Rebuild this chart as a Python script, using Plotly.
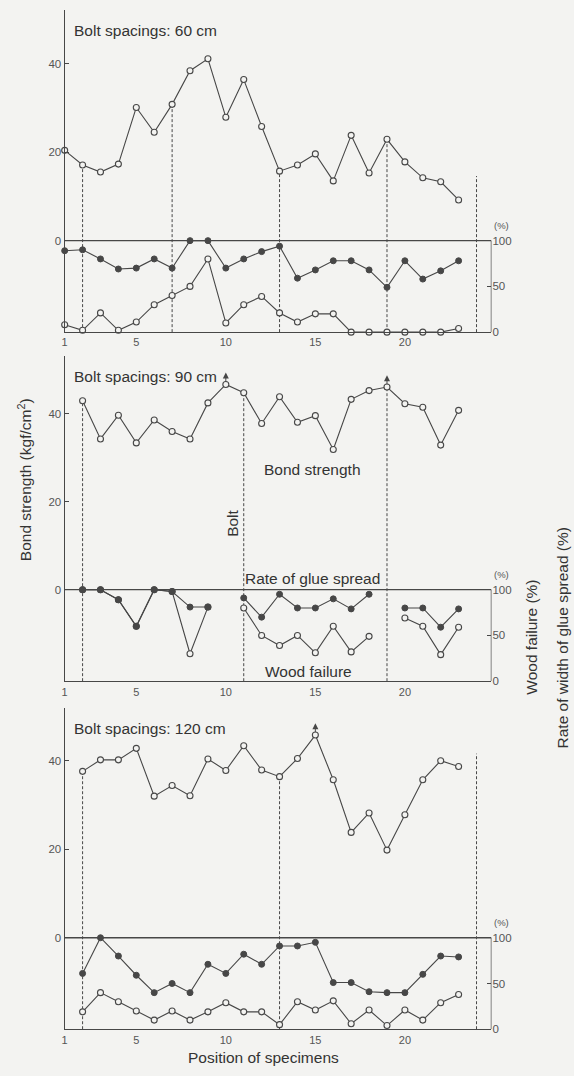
import plotly.graph_objects as go

# Specimen positions along the beam
positions = list(range(1, 24))

# Bolt spacing 60 cm
bond_60 = [20.4, 17.1, 15.5, 17.3, 30.1, 24.5, 30.8, 38.4, 41.1, 27.9, 36.4, 25.8,
           15.7, 17.1, 19.6, 13.5, 23.8, 15.3, 22.9, 17.8, 14.2, 13.3, 9.2]
glue_60 = [89, 90, 80, 69, 70, 80, 70, 100, 100, 70, 80, 88,
           94, 59, 68, 78, 78, 68, 49, 78, 58, 67, 78]
wood_60 = [8, 2, 21, 2, 11, 30, 40, 50, 80, 10, 30, 39,
           21, 11, 20, 20, 0, 0, 0, 0, 0, 0, 4]
bolts_60 = [2, 7, 13, 19, 24]
bolt_end_60 = 14.6
arrows_60 = []

# Bolt spacing 90 cm
bond_90 = [None, 43.0, 34.3, 39.7, 33.4, 38.6, 36.0, 34.3, 42.5, 46.7, 44.8, 37.8,
           43.9, 38.1, 39.6, 31.9, 43.3, 45.3, 46.1, 42.3, 41.5, 32.9, 40.8]
glue_90 = [None, 100, 100, 89, 60, 100, 98, 81, 81, None, 91, 70,
           95, 80, 80, 90, 79, 95, None, 80, 80, 59, 79]
wood_90 = [None, 100, 100, 89, 60, 100, 98, 30, 81, None, 80, 50,
           39, 50, 31, 60, 32, 49, None, 69, 60, 29, 59]
bolts_90 = [2, 11, 19]
bolt_end_90 = None
arrows_90 = [10, 19]

# Bolt spacing 120 cm
bond_120 = [None, 37.6, 40.2, 40.2, 42.8, 32.0, 34.4, 32.1, 40.4, 37.8, 43.4, 37.9,
            36.4, 40.5, 45.8, 35.7, 23.8, 28.2, 19.8, 27.8, 35.7, 40.0, 38.7]
glue_120 = [None, 61, 100, 80, 59, 40, 50, 40, 71, 61, 82, 71,
            91, 91, 95, 51, 51, 41, 40, 40, 60, 80, 79]
wood_120 = [None, 19, 40, 30, 20, 10, 20, 10, 19, 29, 19, 19,
            5, 30, 21, 31, 6, 21, 4, 21, 10, 29, 38]
bolts_120 = [2, 13, 24]
bolt_end_120 = 41.6
arrows_120 = [15]

x_ticks = [1, 5, 10, 15, 20]
bond_ticks = [0, 20, 40]
pct_ticks = [0, 50, 100]

# ---- page geometry (pixels) ----
W, H = 574, 1076
INK = "#474747"
TICK_INK = "#555555"
PAPER = "#f3f3f1"
FONT = "Liberation Sans, Arial, sans-serif"
X_LEFT, X_RIGHT, PX_PER_POS = 62, 491, 18.0
x_lo = 1
x_hi = x_lo + (X_RIGHT - X_LEFT) / PX_PER_POS


def fx(px):
    return px / W


def fy(py):
    return 1 - py / H


panels = [
    dict(title="Bolt spacings: 60 cm", bond=bond_60, glue=glue_60, wood=wood_60,
         bolts=bolts_60, bolt_end=bolt_end_60, arrows=arrows_60,
         top=10, zero=242, bottom=334, ppu=4.45),
    dict(title="Bolt spacings: 90 cm", bond=bond_90, glue=glue_90, wood=wood_90,
         bolts=bolts_90, bolt_end=bolt_end_90, arrows=arrows_90,
         top=358, zero=593, bottom=685, ppu=4.42),
    dict(title="Bolt spacings: 120 cm", bond=bond_120, glue=glue_120, wood=wood_120,
         bolts=bolts_120, bolt_end=bolt_end_120, arrows=arrows_120,
         top=712, zero=943, bottom=1035, ppu=4.45),
]

fig = go.Figure()
shapes = []
annotations = []
layout = {}

for i, p in enumerate(panels):
    n = i + 1
    xs = "" if n == 1 else str(n)
    yb_n = 2 * n - 1
    yp_n = 2 * n
    xa = "x" + xs
    yb = "y" if yb_n == 1 else f"y{yb_n}"
    yp = f"y{yp_n}"

    ymax = (p["zero"] - p["top"]) / p["ppu"]
    ymin = -(p["bottom"] - p["zero"]) / p["ppu"]
    pct_hi = 100 * (ymax - ymin) / (-ymin)
    dom_y = [fy(p["bottom"]), fy(p["top"])]

    # wood failure (open circles), rate of glue spread (filled), bond strength
    fig.add_trace(go.Scatter(
        x=positions, y=p["wood"], xaxis=xa, yaxis=yp, mode="lines+markers",
        line=dict(color=INK, width=1.1),
        marker=dict(symbol="circle", size=6, color=PAPER, line=dict(color=INK, width=1.1)),
        cliponaxis=False, showlegend=False, hoverinfo="skip"))
    fig.add_trace(go.Scatter(
        x=positions, y=p["glue"], xaxis=xa, yaxis=yp, mode="lines+markers",
        line=dict(color=INK, width=1.1),
        marker=dict(symbol="circle", size=6, color=INK, line=dict(color=INK, width=1)),
        cliponaxis=False, showlegend=False, hoverinfo="skip"))
    fig.add_trace(go.Scatter(
        x=positions, y=p["bond"], xaxis=xa, yaxis=yb, mode="lines+markers",
        line=dict(color=INK, width=1.1),
        marker=dict(symbol="circle", size=6, color=PAPER, line=dict(color=INK, width=1.1)),
        cliponaxis=False, showlegend=False, hoverinfo="skip"))

    # small up-arrows over specimens whose value ran beyond the reading
    if p["arrows"]:
        tips = [p["bond"][a - 1] + 12 / p["ppu"] for a in p["arrows"]]
        fig.add_trace(go.Scatter(
            x=p["arrows"], y=tips, xaxis=xa, yaxis=yb, mode="markers",
            marker=dict(symbol="arrow-up", size=6, color=INK, line=dict(width=0)),
            cliponaxis=False, showlegend=False, hoverinfo="skip"))
        for a in p["arrows"]:
            v = p["bond"][a - 1]
            shapes.append(dict(type="line", xref=xa, yref=yb, x0=a, x1=a,
                               y0=v + 3 / p["ppu"], y1=v + 10 / p["ppu"],
                               line=dict(color=INK, width=1)))

    layout["xaxis" + xs] = dict(
        domain=[fx(X_LEFT), fx(X_RIGHT)], range=[x_lo, x_hi], anchor=yb,
        showline=True, linecolor=INK, linewidth=1.3, ticks="", tickvals=x_ticks,
        color=TICK_INK, tickfont=dict(size=11, color=TICK_INK, family=FONT),
        showgrid=False, zeroline=False)
    layout["yaxis" + ("" if yb_n == 1 else str(yb_n))] = dict(
        domain=dom_y, range=[ymin, ymax], anchor=xa,
        showline=True, linecolor=INK, linewidth=1.3, ticks="inside", ticklen=4,
        tickcolor=INK, tickvals=bond_ticks, color=TICK_INK,
        tickfont=dict(size=11.5, color=TICK_INK, family=FONT),
        showgrid=False, zeroline=False)
    layout["yaxis" + str(yp_n)] = dict(
        overlaying=yb, anchor="free", position=fx(X_RIGHT), side="right",
        range=[0, pct_hi], ticks="inside", ticklen=4, tickcolor=INK,
        tickvals=pct_ticks, color=TICK_INK,
        tickfont=dict(size=11.5, color=TICK_INK, family=FONT),
        showline=False, showgrid=False, zeroline=False)

    # frame of the lower box (top edge = 0 / 100 %, right edge)
    shapes.append(dict(type="line", xref=xa, yref=yb, x0=x_lo, x1=x_hi, y0=0, y1=0,
                       line=dict(color=INK, width=1.3)))
    shapes.append(dict(type="line", xref=xa, yref=yb, x0=x_hi, x1=x_hi, y0=ymin, y1=0,
                       line=dict(color=INK, width=1.3)))

    # bolt positions (dashed verticals)
    for b in p["bolts"]:
        if b <= len(positions) and p["bond"][b - 1] is not None:
            top_val = p["bond"][b - 1]
        else:
            top_val = p["bolt_end"]
        shapes.append(dict(type="line", xref=xa, yref=yb, x0=b, x1=b, y0=ymin, y1=top_val,
                           line=dict(color=INK, width=1, dash="3px,2px"), layer="below"))

    # panel title
    annotations.append(dict(
        x=fx(69), y=fy(p["top"] + 21), xref="paper", yref="paper", text=p["title"],
        showarrow=False, xanchor="left", yanchor="middle",
        font=dict(size=15.5, color="#333333", family=FONT)))
    # "(%)" over the right scale
    annotations.append(dict(
        x=fx(501), y=fy(p["zero"] - 15), xref="paper", yref="paper", text="(%)",
        showarrow=False, xanchor="center", yanchor="middle",
        font=dict(size=9.5, color=TICK_INK, family=FONT)))

# labels inside the 90 cm panel
label_font = dict(size=15.5, color="#333333", family=FONT)
annotations += [
    dict(x=fx(311), y=fy(472), xref="paper", yref="paper", text="Bond strength",
         showarrow=False, xanchor="center", yanchor="middle", font=label_font),
    dict(x=fx(230), y=fy(526), xref="paper", yref="paper", text="Bolt", textangle=-90,
         showarrow=False, xanchor="center", yanchor="middle", font=label_font),
    dict(x=fx(241), y=fy(582), xref="paper", yref="paper", text="Rate of glue spread",
         showarrow=False, xanchor="left", yanchor="middle", font=label_font),
    dict(x=fx(261), y=fy(675), xref="paper", yref="paper", text="Wood failure",
         showarrow=False, xanchor="left", yanchor="middle", font=label_font),
    # axis titles
    dict(x=fx(22), y=fy(482), xref="paper", yref="paper",
         text="Bond strength (kgf/cm<sup>2</sup>)", textangle=-90,
         showarrow=False, xanchor="center", yanchor="middle", font=label_font),
    dict(x=fx(531), y=fy(641), xref="paper", yref="paper", text="Wood failure (%)",
         textangle=-90, showarrow=False, xanchor="center", yanchor="middle", font=label_font),
    dict(x=fx(562), y=fy(642), xref="paper", yref="paper",
         text="Rate of width of glue spread (%)", textangle=-90,
         showarrow=False, xanchor="center", yanchor="middle", font=label_font),
    dict(x=fx(262), y=fy(1063), xref="paper", yref="paper", text="Position of specimens",
         showarrow=False, xanchor="center", yanchor="middle", font=label_font),
]

fig.update_layout(
    width=W, height=H, margin=dict(l=0, r=0, t=0, b=0),
    paper_bgcolor=PAPER, plot_bgcolor=PAPER,
    font=dict(family=FONT, color="#333333"),
    shapes=shapes, annotations=annotations, showlegend=False,
    **layout)

fig.write_html("out.html", config={"displayModeBar": False})
